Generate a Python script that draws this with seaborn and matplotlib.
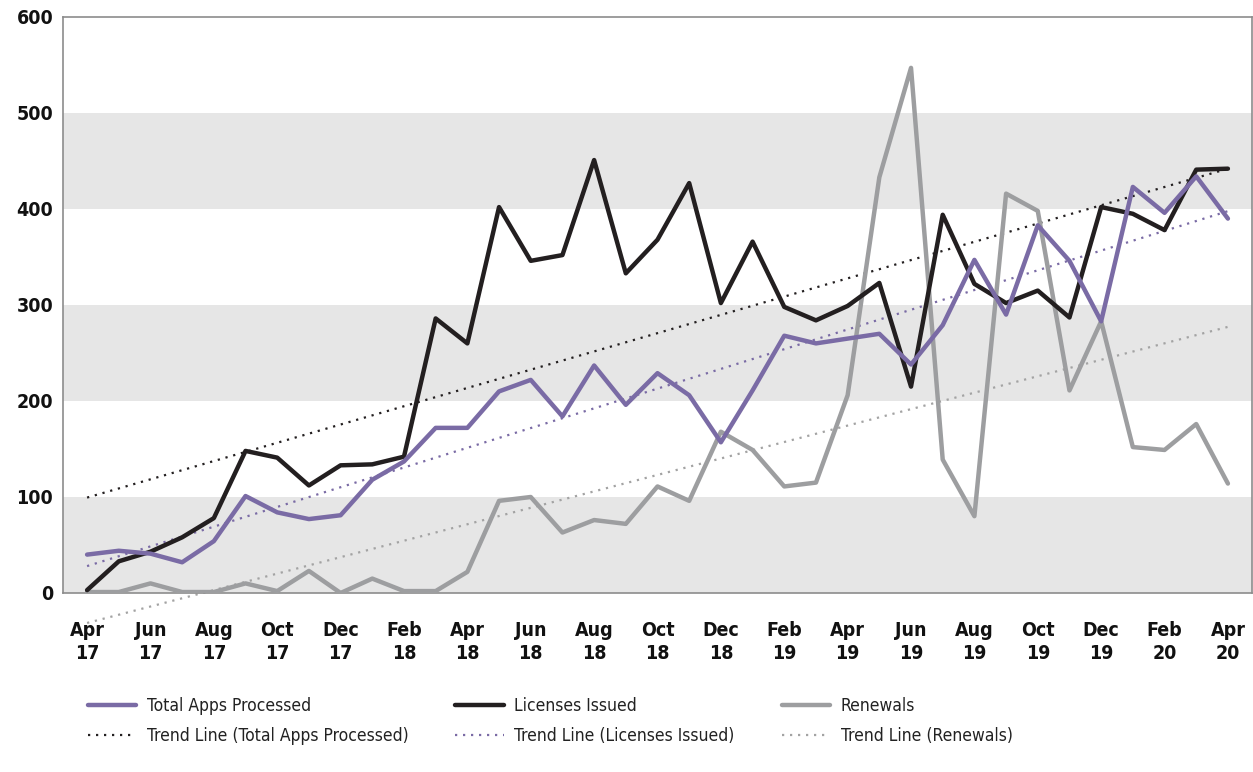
import matplotlib
matplotlib.use("Agg")
import matplotlib.pyplot as plt
import seaborn as sns
import numpy as np
import pandas as pd

months = ["Apr\n17", "May\n17", "Jun\n17", "Jul\n17", "Aug\n17", "Sep\n17", "Oct\n17", "Nov\n17", "Dec\n17",
          "Jan\n18", "Feb\n18", "Mar\n18", "Apr\n18", "May\n18", "Jun\n18", "Jul\n18", "Aug\n18", "Sep\n18",
          "Oct\n18", "Nov\n18", "Dec\n18", "Jan\n19", "Feb\n19", "Mar\n19", "Apr\n19", "May\n19", "Jun\n19",
          "Jul\n19", "Aug\n19", "Sep\n19", "Oct\n19", "Nov\n19", "Dec\n19", "Jan\n20", "Feb\n20", "Mar\n20",
          "Apr\n20"]

total_apps = [40, 44, 41, 32, 54, 101, 84, 77, 81, 118, 137, 172, 172, 210, 222, 184, 237, 196, 229, 206,
              157, 211, 268, 260, 265, 270, 238, 279, 347, 290, 383, 346, 283, 423, 396, 434, 390]
licenses = [3, 33, 43, 58, 78, 148, 141, 112, 133, 134, 142, 286, 260, 402, 346, 352, 451, 333, 368, 427,
            302, 366, 298, 284, 299, 323, 215, 394, 322, 302, 315, 287, 402, 395, 378, 441, 442]
renewals = [1, 1, 10, 1, 1, 10, 2, 23, 0, 15, 2, 2, 22, 96, 100, 63, 76, 72, 111, 96, 168, 149, 111, 115,
            206, 433, 547, 139, 80, 416, 398, 211, 283, 152, 149, 176, 114]

series_labels = ["Total Apps Processed", "Licenses Issued", "Renewals"]
trend_labels = ["Trend Line (Total Apps Processed)", "Trend Line (Licenses Issued)", "Trend Line (Renewals)"]
y_ticks = [0, 100, 200, 300, 400, 500, 600]

sns.set_theme(style="white")
plt.rcParams['font.family'] = ['DejaVu Sans']
plt.rcParams['font.stretch'] = 'condensed'

PURPLE = "#7a6ba5"
BLACK = "#231f20"
GRAY = "#9d9ea0"

fig = plt.figure(figsize=(12.53, 7.72), dpi=100)
ax = fig.add_axes([63 / 1253, 1 - 593 / 772, (1252 - 63) / 1253, (593 - 17) / 772])

# alternating bands
for lo in range(0, 600, 200):
    ax.axhspan(lo, lo + 100, color="#e6e6e6", zorder=0, lw=0)

idx = np.arange(len(months))
df = pd.DataFrame({"idx": idx, "total": total_apps, "lic": licenses, "ren": renewals})

# trend lines (least-squares fits drawn by seaborn)
trend_specs = [("lic", BLACK, trend_labels[0]), ("total", PURPLE, trend_labels[1]), ("ren", "#a3a3a3", trend_labels[2])]
trend_handles = []
for col, color, lab in trend_specs:
    before = len(ax.lines)
    sns.regplot(data=df, x="idx", y=col, ax=ax, scatter=False, ci=None, truncate=True,
                line_kws=dict(color=color, lw=1.6, linestyle=(0, (1, 2.6)), zorder=2, label=lab))
    ln = ax.lines[before]
    ln.set_clip_on(False)
    trend_handles.append(ln)

main_handles = []
for col, color, lab in [("ren", GRAY, series_labels[2]), ("lic", BLACK, series_labels[1]), ("total", PURPLE, series_labels[0])]:
    before = len(ax.lines)
    sns.lineplot(data=df, x="idx", y=col, ax=ax, color=color, lw=3.2, label=lab, zorder=3, legend=False)
    main_handles.append(ax.lines[before])
main_handles = main_handles[::-1]
if ax.get_legend() is not None:
    ax.get_legend().remove()

ax.set_xlim(-0.76, 36.76)
ax.set_ylim(0, 600)
ax.set_xticks(idx[::2])
ax.set_xticklabels(months[::2], fontsize=14, fontweight="bold", linespacing=1.25)
ax.set_yticks(y_ticks)
ax.set_yticklabels([str(v) for v in y_ticks], fontsize=14, fontweight="bold")
ax.tick_params(axis="x", length=0, pad=20, colors="#111111")
ax.tick_params(axis="y", length=0, pad=7, colors="#111111")
ax.set_xlabel("")
ax.set_ylabel("")
for s in ax.spines.values():
    s.set_visible(True)
    s.set_color("#8c8c8c")
    s.set_linewidth(1.2)

handles = [main_handles[0], trend_handles[0], main_handles[1], trend_handles[1], main_handles[2], trend_handles[2]]
labels = [series_labels[0], trend_labels[0], series_labels[1], trend_labels[1], series_labels[2], trend_labels[2]]
leg = fig.legend(handles, labels, ncol=3, loc="upper left", bbox_to_anchor=(72 / 1253, 1 - 681 / 772),
                 frameon=False, fontsize=12.5, handlelength=2.8, handletextpad=0.6, columnspacing=2.7,
                 labelspacing=0.7)
for t in leg.get_texts():
    t.set_color("#222222")

fig.savefig("out.png", dpi=100)
